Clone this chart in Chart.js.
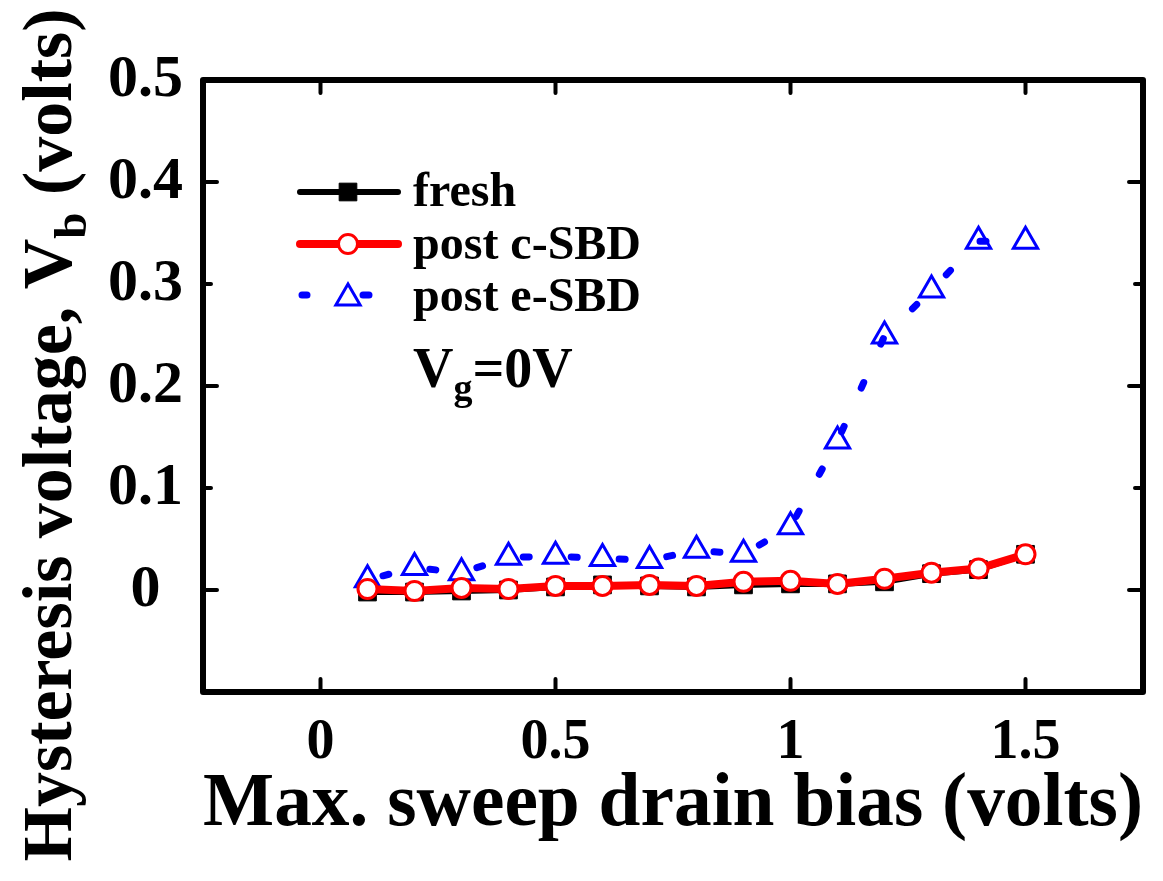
<!DOCTYPE html>
<html>
<head>
<meta charset="utf-8">
<script src="https://cdn.jsdelivr.net/npm/chart.js@4.4.1/dist/chart.umd.min.js"></script>
<style>
  html, body { margin: 0; padding: 0; background: #fff; }
  #wrap { width: 1163px; height: 881px; }
</style>
</head>
<body>
<div id="wrap"><canvas id="hystChart" width="1163" height="881"></canvas></div>
<script>
const sweepBias = [0.1, 0.2, 0.3, 0.4, 0.5, 0.6, 0.7, 0.8, 0.9, 1.0, 1.1, 1.2, 1.3, 1.4, 1.5];
const fresh = [-0.002, -0.002, -0.001, 0.0, 0.003, 0.005, 0.004, 0.003, 0.005, 0.006, 0.006, 0.008, 0.016, 0.020, 0.035];
const postCSBD = [0.001, -0.001, 0.002, 0.001, 0.004, 0.004, 0.005, 0.004, 0.008, 0.009, 0.006, 0.011, 0.017, 0.021, 0.035];
const postESBD = [0.010, 0.022, 0.017, 0.032, 0.033, 0.031, 0.029, 0.039, 0.035, 0.062, 0.146, 0.249, 0.294, 0.342, 0.342];

const xTicks = [0, 0.5, 1, 1.5];
const yTicks = [0, 0.1, 0.2, 0.3, 0.4, 0.5];

const FONT = "'Liberation Serif', 'Times New Roman', serif";

const toPoints = (ys) => sweepBias.map((x, i) => ({ x: x, y: ys[i] }));

// frame with inward tick marks
const framePlugin = {
  id: 'frame',
  afterDraw(chart) {
    const { ctx, chartArea: a, scales } = chart;
    ctx.save();
    ctx.strokeStyle = '#000';
    ctx.lineCap = 'round';
    ctx.lineJoin = 'round';
    ctx.lineWidth = 4;
    xTicks.forEach(v => {
      const px = scales.x.getPixelForValue(v);
      ctx.beginPath();
      ctx.moveTo(px, a.bottom); ctx.lineTo(px, a.bottom - 13);
      ctx.moveTo(px, a.top); ctx.lineTo(px, a.top + 13);
      ctx.stroke();
    });
    yTicks.forEach(v => {
      const py = scales.y.getPixelForValue(v);
      const len = (Math.round(v * 10) % 2 === 0) ? 14 : 8;
      ctx.beginPath();
      ctx.moveTo(a.left, py); ctx.lineTo(a.left + len, py);
      ctx.moveTo(a.right, py); ctx.lineTo(a.right - len, py);
      ctx.stroke();
    });
    ctx.lineWidth = 6;
    ctx.strokeRect(a.left, a.top, a.right - a.left, a.bottom - a.top);
    ctx.restore();
  }
};

// legend inside the plot, V_g note and the y title with subscript
const legendPlugin = {
  id: 'inLegend',
  afterDraw(chart) {
    const { ctx } = chart;
    const rows = [192, 244, 295];
    const textY = [206, 259, 311];
    ctx.save();
    chart.data.datasets.forEach((ds, i) => {
      const y = rows[i];
      ctx.save();
      ctx.strokeStyle = ds.borderColor;
      ctx.lineWidth = ds.borderWidth;
      ctx.lineCap = 'round';
      ctx.beginPath();
      if (ds.borderDash) {
        ctx.moveTo(302, y); ctx.lineTo(307, y);
        ctx.moveTo(363, y); ctx.lineTo(369, y);
      } else {
        ctx.moveTo(300, y); ctx.lineTo(398, y);
      }
      ctx.stroke();
      ctx.restore();
      ctx.fillStyle = ds.pointBackgroundColor;
      ctx.strokeStyle = ds.pointBorderColor;
      ctx.lineWidth = ds.pointBorderWidth;
      Chart.helpers.drawPoint(ctx, {
        pointStyle: ds.pointStyle,
        radius: ds.pointRadius,
        borderWidth: ds.pointBorderWidth,
        rotation: 0
      }, 348, ds.pointStyle === 'triangle' ? y + 3 : y);
      ctx.fillStyle = '#000';
      ctx.font = 'bold 48px ' + FONT;
      ctx.textBaseline = 'alphabetic';
      ctx.fillText(ds.label, 413, textY[i]);
    });
    ctx.fillStyle = '#000';
    ctx.font = 'bold 56px ' + FONT;
    ctx.fillText('V', 413, 387);
    const vw = ctx.measureText('V').width;
    ctx.font = 'bold 38px ' + FONT;
    ctx.fillText('g', 413 + vw, 400);
    const gw = ctx.measureText('g').width;
    ctx.font = 'bold 56px ' + FONT;
    ctx.fillText('=0V', 413 + vw + gw, 387);

    const main = 'Hysteresis voltage, V';
    const sub = 'b';
    const tail = ' (volts)';
    const big = 'bold 70px ' + FONT;
    const small = 'bold 47px ' + FONT;
    ctx.font = big;
    const w1 = ctx.measureText(main).width;
    const w3 = ctx.measureText(tail).width;
    ctx.font = small;
    const w2 = ctx.measureText(sub).width;
    const total = w1 + w2 + w3;
    ctx.translate(71, 435);
    ctx.rotate(-Math.PI / 2);
    const x0 = -total / 2;
    ctx.font = big;
    ctx.fillText(main, x0, 0);
    ctx.font = small;
    ctx.fillText(sub, x0 + w1, 15);
    ctx.font = big;
    ctx.fillText(tail, x0 + w1 + w2, 0);
    ctx.restore();
  }
};

new Chart(document.getElementById('hystChart'), {
  type: 'scatter',
  data: {
    datasets: [
      {
        label: 'fresh',
        data: toPoints(fresh),
        showLine: true,
        borderColor: '#000',
        borderWidth: 6,
        pointStyle: 'rect',
        pointRadius: 12.5,
        pointBackgroundColor: '#000',
        pointBorderColor: '#000',
        pointBorderWidth: 1,
        order: 2
      },
      {
        label: 'post c-SBD',
        data: toPoints(postCSBD),
        showLine: true,
        borderColor: '#ff0000',
        borderWidth: 8,
        pointStyle: 'circle',
        pointRadius: 9.5,
        pointBackgroundColor: '#fff',
        pointBorderColor: '#ff0000',
        pointBorderWidth: 3,
        order: 1
      },
      {
        label: 'post e-SBD',
        data: toPoints(postESBD),
        showLine: true,
        borderColor: '#0000ff',
        borderWidth: 7,
        borderDash: [6, 42],
        borderDashOffset: -16,
        borderCapStyle: 'round',
        pointStyle: 'triangle',
        pointRadius: 14,
        pointBackgroundColor: 'rgba(255,255,255,0)',
        pointBorderColor: '#0000ff',
        pointBorderWidth: 3,
        order: 3
      }
    ]
  },
  options: {
    responsive: false,
    animation: false,
    events: [],
    layout: { padding: { top: 80, right: 20, left: 0, bottom: 0 } },
    plugins: {
      legend: { display: false },
      tooltip: { enabled: false }
    },
    scales: {
      x: {
        type: 'linear',
        min: -0.25,
        max: 1.75,
        afterBuildTicks: (s) => { s.ticks = xTicks.map(v => ({ value: v })); },
        afterFit: (s) => { s.height = 189; },
        grid: { display: false },
        border: { display: false },
        ticks: {
          color: '#000',
          padding: 10,
          font: { family: FONT, size: 56, weight: 'bold' },
          callback: (v) => String(v)
        },
        title: {
          display: true,
          text: 'Max. sweep drain bias (volts)',
          color: '#000',
          padding: { top: 0, bottom: 30 },
          font: { family: FONT, size: 76, weight: 'bold' }
        }
      },
      y: {
        type: 'linear',
        min: -0.1,
        max: 0.5,
        afterBuildTicks: (s) => { s.ticks = yTicks.map(v => ({ value: v })); },
        afterFit: (s) => { s.width = 203; },
        grid: { display: false },
        border: { display: false },
        ticks: {
          color: '#000',
          padding: 12,
          crossAlign: 'center',
          font: { family: FONT, size: 60, weight: 'bold' },
          callback: (v) => String(v)
        }
      }
    }
  },
  plugins: [framePlugin, legendPlugin]
});
</script>
</body>
</html>
